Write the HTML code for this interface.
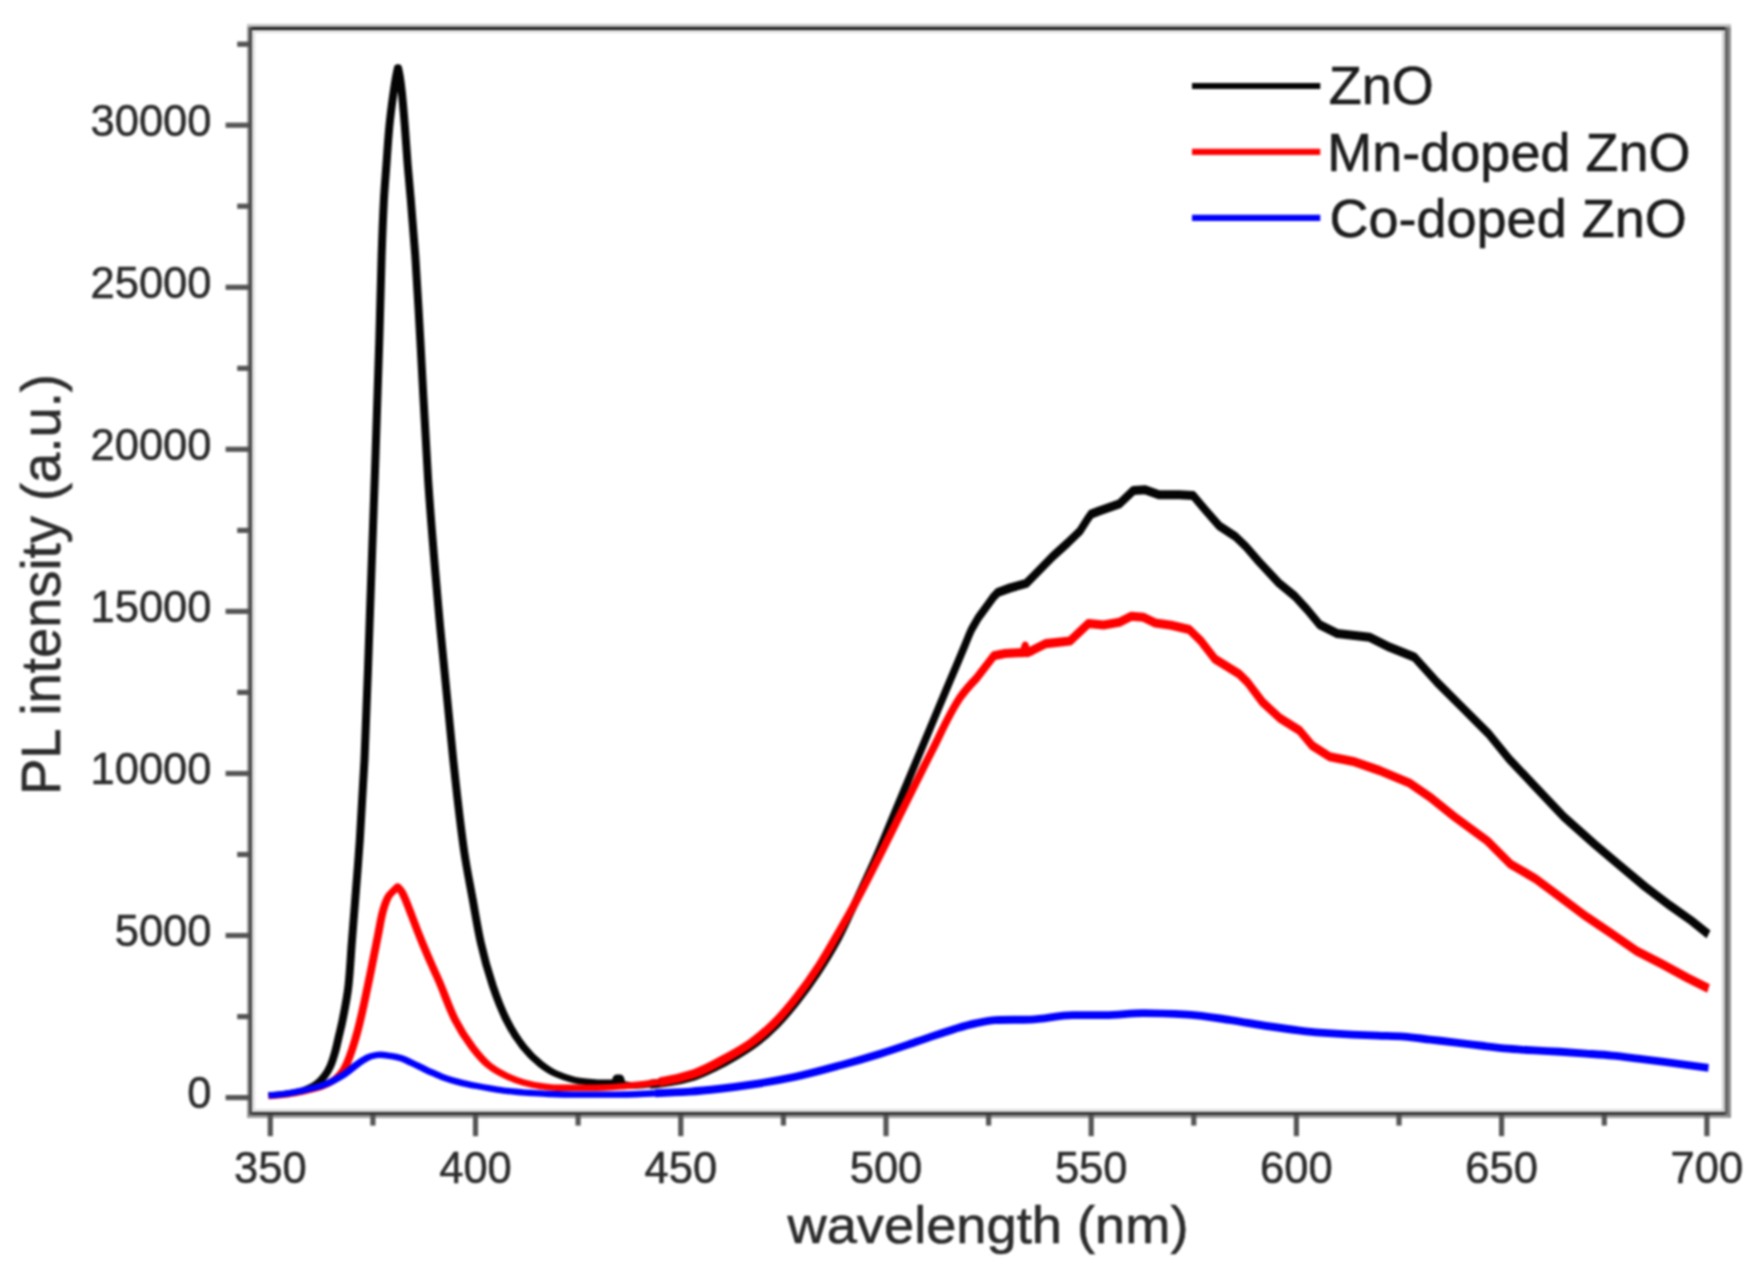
<!DOCTYPE html>
<html lang="en">
<head>
<meta charset="utf-8">
<title>PL spectra of ZnO, Mn-doped ZnO and Co-doped ZnO</title>
<style>
html,body{margin:0;padding:0;background:#fff;}
body{width:1757px;height:1284px;overflow:hidden;}
svg{display:block;filter:blur(1.1px);}
</style>
</head>
<body>
<svg width="1757" height="1284" viewBox="0 0 1757 1284">
<g shape-rendering="crispEdges">
<rect x="247" y="24" width="1484" height="3" fill="#c2c2c2"/>
<rect x="249.4" y="27" width="1478.6" height="3" fill="#1c1c1c"/>
<rect x="252" y="30" width="1473" height="2.8" fill="#e2e2e2"/>
<rect x="252" y="1109.3" width="1473" height="2.8" fill="#dedede"/>
<rect x="249.4" y="1112.1" width="1478.6" height="2.9" fill="#333"/>
<rect x="247" y="1115" width="1484" height="2.7" fill="#9a9a9a"/>
<rect x="246.9" y="27" width="2.5" height="1090" fill="#9c9c9c"/>
<rect x="249.4" y="27" width="2.8" height="1088" fill="#484848"/>
<rect x="252.2" y="30" width="3" height="1082" fill="#dedede"/>
<rect x="1722" y="30" width="3" height="1082" fill="#cdcdcd"/>
<rect x="1725" y="27" width="3" height="1088" fill="#606060"/>
<rect x="1728" y="27" width="3" height="1090" fill="#8c8c8c"/>
</g>
<g stroke="#555" stroke-width="5.2" fill="none">
<line x1="270.3" y1="1115" x2="270.3" y2="1136.2"/>
<line x1="372.9" y1="1115" x2="372.9" y2="1125.6"/>
<line x1="475.5" y1="1115" x2="475.5" y2="1136.2"/>
<line x1="578.1" y1="1115" x2="578.1" y2="1125.6"/>
<line x1="680.8" y1="1115" x2="680.8" y2="1136.2"/>
<line x1="783.4" y1="1115" x2="783.4" y2="1125.6"/>
<line x1="886.0" y1="1115" x2="886.0" y2="1136.2"/>
<line x1="988.6" y1="1115" x2="988.6" y2="1125.6"/>
<line x1="1091.2" y1="1115" x2="1091.2" y2="1136.2"/>
<line x1="1193.8" y1="1115" x2="1193.8" y2="1125.6"/>
<line x1="1296.4" y1="1115" x2="1296.4" y2="1136.2"/>
<line x1="1399.0" y1="1115" x2="1399.0" y2="1125.6"/>
<line x1="1501.6" y1="1115" x2="1501.6" y2="1136.2"/>
<line x1="1604.3" y1="1115" x2="1604.3" y2="1125.6"/>
<line x1="1706.9" y1="1115" x2="1706.9" y2="1136.2"/>
<line x1="225.6" y1="1097.6" x2="249.5" y2="1097.6"/>
<line x1="237.2" y1="1016.6" x2="249.5" y2="1016.6"/>
<line x1="225.6" y1="935.5" x2="249.5" y2="935.5"/>
<line x1="237.2" y1="854.5" x2="249.5" y2="854.5"/>
<line x1="225.6" y1="773.5" x2="249.5" y2="773.5"/>
<line x1="237.2" y1="692.4" x2="249.5" y2="692.4"/>
<line x1="225.6" y1="611.4" x2="249.5" y2="611.4"/>
<line x1="237.2" y1="530.4" x2="249.5" y2="530.4"/>
<line x1="225.6" y1="449.3" x2="249.5" y2="449.3"/>
<line x1="237.2" y1="368.3" x2="249.5" y2="368.3"/>
<line x1="225.6" y1="287.3" x2="249.5" y2="287.3"/>
<line x1="237.2" y1="206.2" x2="249.5" y2="206.2"/>
<line x1="225.6" y1="125.2" x2="249.5" y2="125.2"/>
<line x1="237.2" y1="44.2" x2="249.5" y2="44.2"/>
</g>
<g font-family="'Liberation Sans', Arial, sans-serif" font-size="43.5" fill="#2c2c2c" stroke="#2c2c2c" stroke-width="0.55">
<text x="270.3" y="1183" text-anchor="middle">350</text>
<text x="475.5" y="1183" text-anchor="middle">400</text>
<text x="680.8" y="1183" text-anchor="middle">450</text>
<text x="886.0" y="1183" text-anchor="middle">500</text>
<text x="1091.2" y="1183" text-anchor="middle">550</text>
<text x="1296.4" y="1183" text-anchor="middle">600</text>
<text x="1501.6" y="1183" text-anchor="middle">650</text>
<text x="1706.9" y="1183" text-anchor="middle">700</text>
<text x="211.5" y="1108.3" text-anchor="end">0</text>
<text x="211.5" y="946.2" text-anchor="end">5000</text>
<text x="211.5" y="784.2" text-anchor="end">10000</text>
<text x="211.5" y="622.1" text-anchor="end">15000</text>
<text x="211.5" y="460.0" text-anchor="end">20000</text>
<text x="211.5" y="298.0" text-anchor="end">25000</text>
<text x="211.5" y="135.9" text-anchor="end">30000</text>
</g>
<text x="988" y="1243" text-anchor="middle" font-family="'Liberation Sans', Arial, sans-serif" font-size="51.5" fill="#2c2c2c" stroke="#2c2c2c" stroke-width="0.6" textLength="401" lengthAdjust="spacingAndGlyphs">wavelength (nm)</text>
<text transform="translate(59.8,584.6) rotate(-90)" text-anchor="middle" font-family="'Liberation Sans', Arial, sans-serif" font-size="55.5" fill="#2c2c2c" stroke="#2c2c2c" stroke-width="0.6" textLength="421" lengthAdjust="spacingAndGlyphs">PL intensity (a.u.)</text>
<g fill="none" stroke-linejoin="round" stroke-linecap="butt">
<g transform="scale(1.25,1.0)"><path stroke="#050505" stroke-width="6.4" d="M214.80,1095.40C219.22,1095.08 223.62,1094.48 228.00,1093.80C232.29,1093.13 236.66,1092.30 240.80,1091.00C243.29,1090.22 245.75,1088.88 248.08,1087.50C250.05,1086.34 252.05,1084.92 253.76,1083.30C255.85,1081.33 257.84,1078.79 259.44,1076.20C261.33,1073.14 263.07,1069.56 264.32,1066.00C265.99,1061.23 267.19,1056.00 268.32,1050.90C269.43,1045.90 270.25,1040.77 271.20,1035.70C272.15,1030.64 273.18,1025.59 274.00,1020.50C275.86,1008.91 277.79,997.23 278.80,985.50C280.02,971.32 280.55,956.97 281.44,942.70C282.33,928.47 283.27,914.23 284.16,900.00C285.41,880.00 286.77,860.01 287.84,840.00C289.27,813.18 290.60,786.35 291.60,759.50C293.33,713.03 294.41,666.50 295.76,620.00C297.12,573.17 298.48,526.34 299.76,479.50C301.03,433.00 302.34,386.50 303.44,340.00C304.11,312.00 304.53,283.99 305.28,256.00C305.78,237.33 306.33,218.65 307.12,200.00C307.62,188.32 308.43,176.66 309.12,165.00C309.87,152.33 310.48,139.64 311.44,127.00C312.32,115.31 313.55,103.63 314.88,92.00C315.49,86.65 316.17,81.31 316.96,76.00C317.38,73.16 317.88,70.32 318.40,67.50C318.91,70.32 319.39,73.15 319.76,76.00C320.45,81.30 320.98,86.66 321.44,92.00C322.45,103.64 323.17,115.33 323.92,127.00C324.74,139.66 325.34,152.34 326.16,165.00C326.91,176.67 327.85,188.33 328.64,200.00C329.90,218.66 331.21,237.32 332.24,256.00C333.79,283.98 334.94,312.00 336.24,340.00C338.39,386.49 340.02,433.04 342.48,479.50C344.96,526.37 348.27,573.20 351.60,620.00C354.91,666.54 358.53,713.06 362.56,759.50C365.21,790.03 367.74,820.64 371.28,851.00C373.19,867.40 375.86,883.68 378.24,900.00C380.32,914.25 382.11,928.61 384.64,942.70C387.22,957.11 390.45,971.51 394.16,985.50C397.24,997.11 400.81,1008.83 405.12,1019.70C408.89,1029.20 413.56,1038.76 418.80,1047.00C422.74,1053.19 427.48,1059.26 432.48,1064.10C436.44,1067.94 440.92,1071.81 445.52,1074.20C451.22,1077.17 457.56,1080.02 463.76,1081.00C469.69,1081.94 475.86,1082.80 481.92,1082.80C484.74,1082.80 487.76,1082.80 490.40,1082.80C491.12,1082.80 492.09,1082.08 492.48,1081.50C493.04,1080.68 493.02,1077.60 493.60,1077.60C493.99,1077.60 495.47,1077.60 495.84,1077.60C496.43,1077.60 496.43,1080.64 496.96,1081.80C497.41,1082.81 498.36,1084.16 499.20,1084.40C501.85,1085.16 505.62,1085.52 508.83,1085.52C512.59,1085.52 516.35,1084.77 520.10,1084.27"/></g>
<g transform="scale(1.0,1.25)"><path stroke="#050505" stroke-width="7.3" d="M650.12,867.42C656.87,866.85 663.64,866.16 670.32,865.27C678.36,864.18 686.51,862.74 694.23,860.85C701.79,858.99 709.06,855.91 716.23,853.09C723.06,850.40 729.75,847.38 736.28,844.25C743.20,840.94 750.19,837.53 756.58,833.67C763.72,829.35 770.54,824.41 776.85,819.31C784.04,813.50 790.66,807.06 797.04,800.62C804.11,793.48 810.86,786.04 817.16,778.45C824.28,769.87 831.15,761.04 837.26,751.98C842.04,744.88 846.18,737.46 850.52,730.15C854.12,724.10 857.60,718.01 861.12,711.93C865.73,703.96 870.48,696.04 874.90,688.00C880.42,677.95 885.50,667.73 890.80,657.60C898.76,642.40 906.74,627.20 914.70,612.00C921.40,599.20 928.09,586.40 934.80,573.60C940.29,563.12 945.80,552.64 951.30,542.16C956.00,533.20 960.68,524.23 965.40,515.28C967.53,511.25 969.34,507.05 971.80,503.20C975.70,497.09 980.44,491.22 986.00,485.76L993.00,478.08L998.00,473.84L1010.00,470.40L1026.30,466.72L1032.90,461.36L1052.70,445.20L1067.60,434.40L1080.00,424.80L1087.60,415.20L1091.00,411.36L1099.50,408.64L1119.40,403.04L1133.40,392.40L1145.30,391.84L1159.30,395.84L1179.20,395.84L1193.10,396.40L1205.10,407.84L1219.00,420.56L1235.40,429.20L1245.80,437.20L1258.90,449.28L1278.80,466.40L1294.80,476.88L1307.30,487.84L1319.70,499.76L1337.20,506.80L1369.60,509.76L1389.50,517.76L1414.40,525.68L1436.90,545.68L1461.80,565.60L1489.20,587.52L1509.10,607.20L1536.50,630.40L1564.00,653.60L1594.60,675.36L1619.80,692.40L1645.00,709.28L1670.30,724.64L1691.30,736.48L1708.50,747.44"/></g>
<g transform="scale(1.25,1.0)"><path stroke="#ff0000" stroke-width="6.4" d="M214.80,1096.00C219.23,1095.78 223.63,1095.23 228.00,1094.60C232.29,1093.99 236.56,1092.86 240.80,1091.80C244.55,1090.87 248.34,1089.90 252.00,1088.60C255.23,1087.45 258.51,1085.98 261.52,1084.20C264.07,1082.69 266.68,1080.73 268.80,1078.50C271.22,1075.96 273.64,1072.57 275.20,1069.20C279.59,1059.70 282.24,1047.79 284.80,1036.80C288.70,1020.05 291.37,1002.66 294.32,985.50C297.26,968.46 299.81,951.30 302.56,934.20C303.73,926.93 304.57,919.51 306.08,912.40C307.23,906.99 308.59,901.12 310.72,896.50C311.73,894.30 313.55,892.43 315.04,890.50C316.05,889.20 317.09,887.93 318.16,886.70C319.23,888.05 320.26,889.46 321.04,891.00C322.54,893.94 323.59,897.42 324.72,900.70C326.44,905.68 327.88,910.83 329.44,915.90C331.00,920.96 332.50,926.05 334.08,931.10C335.54,935.75 337.03,940.39 338.56,945.00C340.12,949.72 341.73,954.42 343.36,959.10C344.96,963.68 346.61,968.23 348.24,972.80C349.33,975.87 350.45,978.92 351.52,982.00C355.85,994.49 359.19,1007.69 364.08,1019.70C367.93,1029.17 372.64,1038.54 377.76,1047.00C381.80,1053.67 386.30,1060.71 391.44,1065.80C395.47,1069.79 400.36,1073.22 405.12,1076.00C409.49,1078.55 414.13,1080.91 418.80,1082.50C423.10,1083.97 427.56,1085.21 432.00,1086.00C436.47,1086.79 441.00,1087.80 445.52,1087.80C454.58,1087.80 463.71,1087.80 472.80,1087.80C481.93,1087.80 491.06,1086.83 500.16,1086.00C509.30,1085.17 518.50,1083.78 527.52,1082.00"/></g>
<g transform="scale(1.0,1.25)"><path stroke="#ff0000" stroke-width="7.3" d="M659.40,865.60C670.89,864.15 682.58,861.88 693.50,859.04C705.36,855.96 716.59,850.52 727.70,845.68C735.44,842.31 743.26,838.77 750.40,834.72C758.45,830.16 766.16,824.81 773.20,819.28C781.39,812.85 788.86,805.57 796.00,798.32C804.05,790.15 811.62,781.54 818.70,772.80C826.82,762.77 834.04,752.22 841.50,741.84C846.89,734.34 852.27,726.82 857.40,719.20C863.84,709.64 869.95,699.92 876.10,690.24C885.57,675.34 894.77,660.32 904.10,645.36C913.43,630.40 922.56,615.35 932.10,600.48C941.26,586.21 949.07,570.91 960.20,557.92C964.99,552.33 970.93,547.16 977.00,542.16L993.80,524.64L1005.00,522.80L1018.00,522.24L1023.00,522.08L1025.20,516.80L1027.40,522.08L1032.00,520.48L1046.00,514.88L1070.00,512.80L1088.50,498.80L1103.50,500.00L1119.40,497.84L1131.40,493.04L1143.30,493.76L1155.30,498.40L1171.20,500.24L1189.20,503.60L1201.10,512.96L1215.10,527.36L1239.00,539.04L1247.40,545.68L1262.40,561.60L1279.80,574.56L1299.80,584.56L1312.20,596.48L1329.70,605.44L1354.60,609.44L1379.50,616.40L1409.40,626.40L1429.40,637.36L1454.30,653.28L1487.30,672.72L1510.50,691.28L1535.70,703.04L1560.90,718.16L1586.20,733.28L1611.40,746.80L1636.60,760.80L1661.90,771.20L1687.10,782.24L1708.50,790.80"/></g>
<g transform="scale(1.25,1.0)"><path stroke="#0000ff" stroke-width="6.4" d="M214.80,1095.40C219.23,1095.10 223.63,1094.50 228.00,1093.80C232.37,1093.10 236.72,1091.92 241.04,1090.80C244.71,1089.85 248.40,1088.85 252.00,1087.60C255.22,1086.49 258.46,1085.17 261.52,1083.60C266.26,1081.17 270.86,1077.83 275.20,1074.40C279.99,1070.62 284.07,1065.23 288.88,1061.50C291.40,1059.54 294.01,1057.10 296.80,1056.20C299.05,1055.47 301.54,1054.70 303.92,1054.70C306.60,1054.70 309.33,1055.32 312.00,1055.80C315.04,1056.34 318.14,1057.13 321.04,1058.20C323.83,1059.23 326.44,1061.24 329.12,1062.80C331.82,1064.37 334.51,1066.00 337.20,1067.60C339.89,1069.20 342.56,1070.86 345.28,1072.40C347.98,1073.93 350.68,1075.49 353.44,1076.80C356.09,1078.05 358.80,1079.19 361.52,1080.20C364.63,1081.35 367.79,1082.39 370.96,1083.30C374.48,1084.31 378.04,1085.16 381.60,1086.00C385.06,1086.82 388.53,1087.59 392.00,1088.30C396.36,1089.20 400.73,1090.18 405.12,1090.80C411.92,1091.75 418.77,1092.41 425.60,1093.00C430.16,1093.39 434.72,1093.80 439.28,1094.00C445.65,1094.29 452.03,1094.60 458.40,1094.60C469.33,1094.60 480.27,1094.60 491.20,1094.60C502.14,1094.60 513.07,1093.83 524.00,1093.30"/></g>
<g transform="scale(1.0,1.2)"><path stroke="#0000ff" stroke-width="6.6" d="M655.00,911.08C666.67,910.71 678.35,910.29 690.00,909.67C700.02,909.13 710.02,908.24 720.00,907.33C730.15,906.41 740.30,905.27 750.40,904.00C765.66,902.09 780.92,899.82 796.00,897.17C811.29,894.48 826.40,890.93 841.50,887.50C854.39,884.58 867.24,881.46 880.00,878.17C892.60,874.92 905.08,871.31 917.60,867.83C930.11,864.36 942.47,860.43 955.10,857.33C961.68,855.72 968.30,854.07 975.00,852.92C981.67,851.77 988.42,850.24 995.20,850.08C1006.81,849.81 1018.63,849.91 1030.30,849.67C1044.51,849.38 1058.59,845.92 1072.80,845.92C1083.64,845.92 1094.54,845.92 1105.40,845.92C1117.94,845.92 1130.46,844.25 1143.00,844.25C1157.99,844.25 1173.06,844.84 1188.00,845.50C1202.25,846.13 1216.44,848.37 1230.60,850.08C1243.16,851.60 1255.64,853.70 1268.20,855.25C1278.78,856.56 1289.38,857.83 1300.00,858.83C1306.65,859.46 1313.32,860.06 1320.00,860.50C1330.65,861.20 1341.33,861.75 1352.00,862.17C1360.66,862.51 1369.33,862.72 1378.00,863.00C1386.67,863.28 1395.36,863.42 1404.00,863.83C1412.69,864.25 1421.33,865.50 1430.00,866.33C1438.70,867.17 1447.40,867.97 1456.10,868.83C1464.74,869.69 1473.36,870.67 1482.00,871.50C1490.69,872.33 1499.39,873.22 1508.10,873.83C1516.72,874.44 1525.36,874.90 1534.00,875.33C1542.70,875.77 1551.40,876.06 1560.10,876.50C1568.74,876.94 1577.37,877.48 1586.00,878.00C1594.70,878.53 1603.42,879.00 1612.10,879.67C1620.75,880.33 1629.37,881.30 1638.00,882.17C1646.71,883.04 1655.40,883.97 1664.10,884.92C1678.91,886.52 1693.71,888.18 1708.50,889.92"/></g>
</g>
<g stroke-width="6.2" fill="none">
<line x1="1192" y1="86" x2="1320.3" y2="86" stroke="#050505"/>
<line x1="1192" y1="151.9" x2="1320.3" y2="151.9" stroke="#ff0000"/>
<line x1="1192" y1="217.8" x2="1320.3" y2="217.8" stroke="#0000ff"/>
</g>
<g font-family="'Liberation Sans', Arial, sans-serif" font-size="54" fill="#1c1c1c" stroke="#1c1c1c" stroke-width="0.6">
<text x="1328.8" y="104.3">ZnO</text>
<text x="1327.3" y="170.7">Mn-doped ZnO</text>
<text x="1329.5" y="236.6">Co-doped ZnO</text>
</g>
</svg>
</body>
</html>
